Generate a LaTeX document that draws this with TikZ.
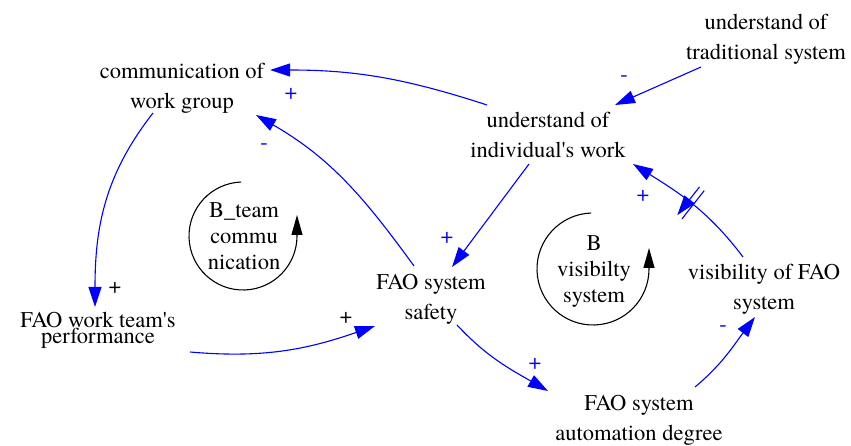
\documentclass[tikz,border=0pt]{standalone}
\usepackage{fontspec}
\setmainfont{TeX Gyre Termes}
\newcommand{\apos}{\textquotesingle}
\usetikzlibrary{arrows.meta,decorations.markings}
\definecolor{linkblue}{RGB}{0,0,255}
\begin{document}
\begin{tikzpicture}[x=1pt,y=1pt,
  var/.style={align=center,font=\fontsize{22.5}{30}\selectfont,inner sep=0pt},
  loopname/.style={align=center,font=\fontsize{22.5}{26}\selectfont,inner sep=0pt},
  link/.style={draw=linkblue,line width=1.1pt,-{Triangle[length=20pt,width=13pt]}},
  polarity/.style={font=\fontsize{22.5}{24}\selectfont,text=linkblue,inner sep=0pt},
  loopturn/.style={draw=black,line width=1.1pt,-{Triangle[length=20pt,width=11pt]}},
  delaymark/.style={postaction={decorate},decoration={markings,
    mark=at position 0.52 with {\draw[linkblue,line width=1.1pt]
      (-3,-18) -- (-3,18) (3,-18) -- (3,18);}}},
]
\useasboundingbox (0,0) rectangle (851,-446);

% variables
\node[var] (comm)   at (182,-88)    {communication of\\work group};
\node[var] (trad)   at (766,-39.5)  {understand of\\traditional system};
\node[var] (indiv)  at (548,-134.5) {understand of\\individual\apos s work};
\node[var] (safety) at (431,-299.5) {FAO system\\safety};
\node[var] (visib)  at (764,-289)   {visibility of FAO\\system};
\node[var] (autom)  at (639,-420.5) {FAO system\\automation degree};
\node[var,font=\fontsize{22.5}{16}\selectfont] (perf) at (98,-330.5) {FAO work team\apos s\\performance};

% loop names
\node[loopname] (loopA) at (244,-236) {B\_team\\commu\\nication};
\node[loopname] (loopB) at (594,-272) {B\\visibilty\\system};

% causal links
\draw[link] ([shift={(-61,29.5)}]indiv.center) to[out=162,in=0] ([shift={(88,18)}]comm.center);
\draw[link] ([shift={(-17,33.5)}]safety.center) to[out=126,in=-30] ([shift={(74,-27)}]comm.center);
\draw[link] ([shift={(-29,-25)}]comm.center) to[out=232,in=90] ([shift={(-3,23.5)}]perf.center);
\draw[link] ([shift={(92,-21.5)}]perf.center) to[out=-5,in=199] ([shift={(-56,-26.5)}]safety.center);
\draw[link] ([shift={(-19,-29.5)}]indiv.center) -- ([shift={(21,32.5)}]safety.center);
\draw[link] ([shift={(-65,-27.5)}]trad.center) -- ([shift={(67,29.5)}]indiv.center);
\draw[link,delaymark] ([shift={(-21,32)}]visib.center) to[out=127,in=-32] ([shift={(85,-29.5)}]indiv.center);
\draw[link] ([shift={(26,-25.5)}]safety.center) to[out=-47,in=150] ([shift={(-91,29.5)}]autom.center);
\draw[link] ([shift={(56,33.5)}]autom.center) to[out=40,in=-127] ([shift={(-9,-28)}]visib.center);

% loop arrows
\draw[loopturn] ([shift={(-1,0)}]loopA.center) ++(92:54) arc[start angle=92,end angle=360,radius=54] -- ++(0,21);
\draw[loopturn] ([shift={(-1,3)}]loopB.center) ++(92:56) arc[start angle=92,end angle=360,radius=56] -- ++(0,21);

% link polarities
\node[polarity] (p1) at (291,-94) {+};
\node[polarity] (p2) at (264,-147) {-};
\node[polarity,text=black] (p3) at (115,-288) {+};
\node[polarity,text=black] (p4) at (346,-318) {+};
\node[polarity] (p5) at (447,-238) {+};
\node[polarity] (p6) at (624,-79) {-};
\node[polarity] (p7) at (643,-196) {+};
\node[polarity] (p8) at (535,-364) {+};
\node[polarity] (p9) at (723,-329) {-};
\end{tikzpicture}
\end{document}
